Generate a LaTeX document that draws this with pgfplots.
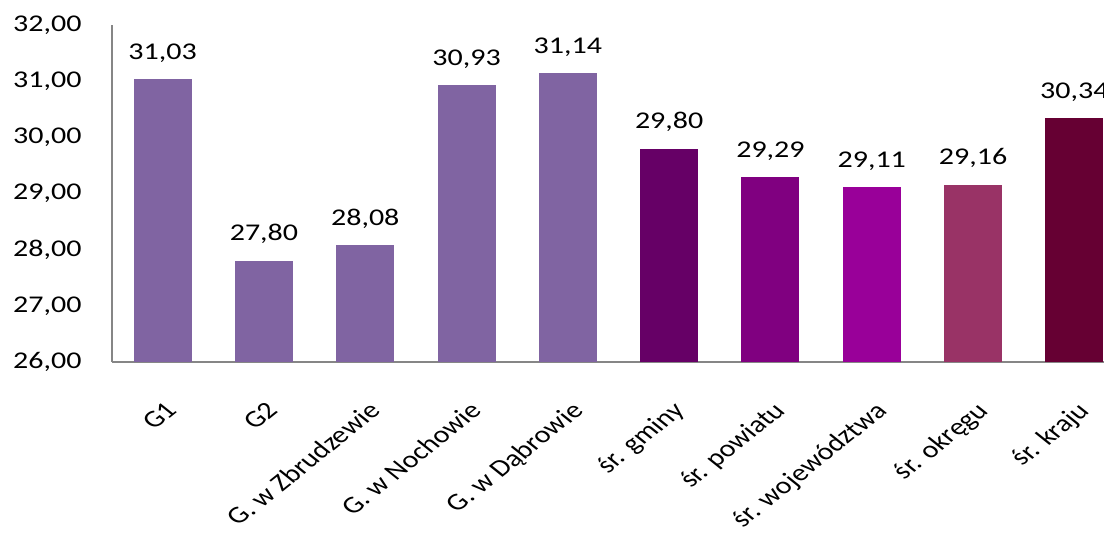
\documentclass[border=0pt]{standalone}
\usepackage{fontspec}
\setmainfont{Carlito}
\usepackage{pgfplots}
\pgfplotsset{compat=1.18}

\definecolor{lila}{HTML}{8064A2}
\definecolor{gminy}{HTML}{660066}
\definecolor{powiatu}{HTML}{800080}
\definecolor{woj}{HTML}{990099}
\definecolor{okregu}{HTML}{993366}
\definecolor{kraju}{HTML}{660033}
\definecolor{axisgray}{HTML}{868686}

\begin{document}
\begin{tikzpicture}
\path[use as bounding box, clip] (0,0) rectangle (552pt,266.5pt);
\begin{axis}[
  at={(56pt,85.5pt)}, anchor=south west,
  scale only axis, width=506.5pt, height=168.5pt,
  ybar, bar width=29pt,
  xmin=-0.5, xmax=9.5, ymin=26, ymax=32,
  ytick={26,27,...,32},
  xtick={0,...,9},
  xticklabels={G1,G2,G. w Zbrudzewie,G. w Nochowie,G. w Dąbrowie,śr. gminy,śr. powiatu,śr. województwa,śr. okręgu,śr. kraju},
  axis x line*=bottom, axis y line*=left,
  axis line style={draw=axisgray, line width=0.75pt},
  major tick length=0pt, tick style={draw=none},
  font=\fontsize{12}{14}\selectfont,
  /pgf/number format/assume math mode=true,
  yticklabel style={anchor=east, inner sep=0pt, xshift=-15pt, xscale=1.25,
    /pgf/number format/use comma, /pgf/number format/fixed,
    /pgf/number format/fixed zerofill, /pgf/number format/precision=2},
  xticklabel style={anchor=north east, inner sep=0pt, yshift=-19pt, xshift=1pt,
    xscale=1.25, rotate=45},
  nodes near coords={\pgfmathprintnumber[use comma,fixed,fixed zerofill,precision=2,assume math mode=true]{\pgfplotspointmeta}},
  every node near coord/.append style={anchor=base, yshift=10pt, inner sep=0pt, xscale=1.25, black},
]
\addplot[fill=lila, draw=none, bar shift=0pt] coordinates {(0,31.03)};
\addplot[fill=lila, draw=none, bar shift=0pt] coordinates {(1,27.80)};
\addplot[fill=lila, draw=none, bar shift=0pt] coordinates {(2,28.08)};
\addplot[fill=lila, draw=none, bar shift=0pt] coordinates {(3,30.93)};
\addplot[fill=lila, draw=none, bar shift=0pt] coordinates {(4,31.14)};
\addplot[fill=gminy, draw=none, bar shift=0pt] coordinates {(5,29.80)};
\addplot[fill=powiatu, draw=none, bar shift=0pt] coordinates {(6,29.29)};
\addplot[fill=woj, draw=none, bar shift=0pt] coordinates {(7,29.11)};
\addplot[fill=okregu, draw=none, bar shift=0pt] coordinates {(8,29.16)};
\addplot[fill=kraju, draw=none, bar shift=0pt] coordinates {(9,30.34)};
\end{axis}
\end{tikzpicture}
\end{document}
